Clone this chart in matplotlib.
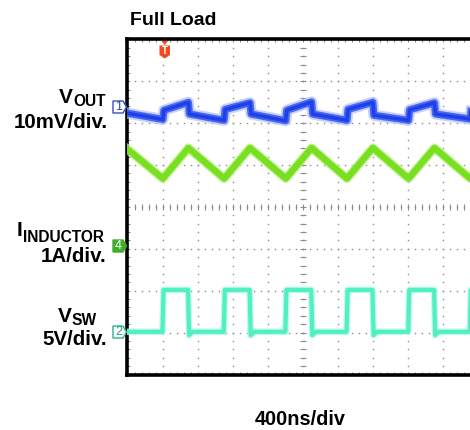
import numpy as np
import matplotlib.pyplot as plt
from matplotlib.patches import Polygon

# scope traces, in divisions (x: 0..10, y: -4..4)
vout_t = [0.00, 1.01, 1.04, 1.74, 1.77, 2.76, 2.79, 3.50, 3.53, 4.52, 4.55, 5.26, 5.29,
          6.27, 6.30, 7.01, 7.04, 8.03, 8.06, 8.77, 8.80, 9.79, 9.82, 10.0]
vout_v = [2.24, 2.09, 2.31, 2.50, 2.22, 2.07, 2.33, 2.49, 2.22, 2.06, 2.31, 2.51, 2.22,
          2.07, 2.33, 2.50, 2.19, 2.07, 2.32, 2.49, 2.22, 2.10, 2.33, 2.36]

il_t = [0.00, 1.01, 1.74, 2.76, 3.50, 4.52, 5.26, 6.27, 7.01, 8.03, 8.77, 9.79, 10.0]
il_v = [1.38, 0.68, 1.41, 0.68, 1.41, 0.68, 1.41, 0.68, 1.41, 0.68, 1.41, 0.68, 0.88]

sw_t = [0.00, 1.00, 1.03, 1.73, 1.76, 1.86, 2.75, 2.78, 3.49, 3.52, 3.62, 4.51, 4.54,
        5.25, 5.28, 5.38, 6.26, 6.29, 7.00, 7.03, 7.13, 8.02, 8.05, 8.76, 8.79, 8.89,
        9.78, 9.81, 10.0]
sw_v = [-2.98,
        -2.98, -1.98, -1.98, -3.06, -2.98,
        -2.98, -1.98, -1.98, -3.06, -2.98,
        -2.98, -1.98, -1.98, -3.06, -2.98,
        -2.98, -1.98, -1.98, -3.06, -2.98,
        -2.98, -1.98, -1.98, -3.06, -2.98,
        -2.98, -1.98, -1.98]

W, H = 470, 430
FONT = 'Liberation Sans'

fig = plt.figure(figsize=(W / 100, H / 100), dpi=100)
ax = fig.add_axes([127.5 / W, 1 - 374.5 / H, 350 / W, 335 / H])
ax.set_xlim(0, 10)
ax.set_ylim(-4, 4)
ax.set_xticks([])
ax.set_yticks([])
for s in ['left', 'top', 'bottom']:
    ax.spines[s].set_linewidth(2.6)
ax.spines['right'].set_visible(False)

# dotted graticule
gcol = '#8c8c8c'
fx = np.arange(0, 10.01, 0.2)
fy = np.arange(-4, 4.01, 0.2)
for y in range(-3, 4):
    ax.plot(fx, [y] * len(fx), ls='none', marker='s', ms=1.0, mew=0, color=gcol, zorder=1)
for x in range(1, 10):
    ax.plot([x] * len(fy), fy, ls='none', marker='s', ms=1.0, mew=0, color=gcol, zorder=1)
# center axes ticks
ax.plot([5] * len(fy), fy, ls='none', marker='_', ms=4, mew=0.8, color=gcol, zorder=1)
ax.plot(fx, [0] * len(fx), ls='none', marker='|', ms=4, mew=0.8, color=gcol, zorder=1)
# border ticks
ax.plot([0] * len(fy), fy, ls='none', marker='_', ms=5, mew=0.8, color=gcol, zorder=1)
ax.plot(fx, [4] * len(fx), ls='none', marker='|', ms=5, mew=0.8, color=gcol, zorder=1)
ax.plot(fx, [-4] * len(fx), ls='none', marker='|', ms=5, mew=0.8, color=gcol, zorder=1)

# traces
ax.plot(vout_t, vout_v, color='#b4c0f8', lw=8, alpha=0.7, zorder=3)
ax.plot(vout_t, vout_v, color='#3a5cf0', lw=5.2, alpha=0.9, zorder=4)
ax.plot(vout_t, vout_v, color='#1e40e8', lw=2.5, zorder=4)
ax.plot(il_t, il_v, color='#b8f080', lw=6.5, alpha=0.8, zorder=3)
ax.plot(il_t, il_v, color='#78e020', lw=4.6, zorder=4)
ax.plot(sw_t, sw_v, color='#b0f8e2', lw=4.8, alpha=0.8, zorder=3)
ax.plot(sw_t, sw_v, color='#50f0c0', lw=3.0, zorder=4)


def fx_(px):
    return px / W


def fy_(py):
    return 1 - py / H


def chan_marker(py, label, face, edge, tcol):
    pts = [(113, py - 6), (123, py - 6), (126.5, py), (123, py + 6), (113, py + 6)]
    fig.add_artist(Polygon([(fx_(a), fy_(b)) for a, b in pts], closed=True,
                           transform=fig.transFigure, facecolor=face, edgecolor=edge, lw=1))
    fig.text(fx_(118.5), fy_(py), label, ha='center', va='center', color=tcol,
             fontsize=9, family=FONT)


chan_marker(107, '1', 'white', '#3050c8', '#2040c0')
chan_marker(246, '4', '#3fae2a', '#3fae2a', 'white')
chan_marker(332, '2', 'white', '#30b090', '#20a080')

# trigger marker
tri = [(161.5, 41), (168, 41), (164.7, 45)]
fig.add_artist(Polygon([(fx_(a), fy_(b)) for a, b in tri], transform=fig.transFigure,
                       facecolor='#f04a1e', edgecolor='none', zorder=10))
shield = [(159.5, 45.5), (170, 45.5), (170, 55), (164.7, 58.5), (159.5, 55)]
fig.add_artist(Polygon([(fx_(a), fy_(b)) for a, b in shield], transform=fig.transFigure,
                       facecolor='#f04a1e', edgecolor='none', zorder=10))
fig.text(fx_(164.8), fy_(51.5), 'T', ha='center', va='center', color='white',
         fontsize=7, weight='bold', family=FONT, zorder=11)

# text labels
fig.text(fx_(130), fy_(25), 'Full Load', ha='left', va='baseline', fontsize=14,
         weight='bold', family=FONT)
fig.text(fx_(255), fy_(425), '400ns/div', ha='left', va='baseline', fontsize=14.3,
         weight='bold', family=FONT)

renderer = fig.canvas.get_renderer()


def split_label(big, small, right, base_small, base_big):
    t = fig.text(fx_(right), fy_(base_small), small, ha='right', va='baseline',
                 fontsize=11.2, weight='bold', family=FONT)
    w = t.get_window_extent(renderer=renderer).width
    fig.text(fx_(right - w - 0.5), fy_(base_big), big, ha='right', va='baseline',
             fontsize=15, weight='bold', family=FONT)


split_label('V', 'OUT', 106, 106, 103)
fig.text(fx_(108), fy_(128), '10mV/div.', ha='right', va='baseline', fontsize=14.8,
         weight='bold', family=FONT)
split_label('I', 'INDUCTOR', 104, 242, 236)
fig.text(fx_(107), fy_(262), '1A/div.', ha='right', va='baseline', fontsize=14.8,
         weight='bold', family=FONT)
split_label('V', 'SW', 97, 325, 322)
fig.text(fx_(107), fy_(345), '5V/div.', ha='right', va='baseline', fontsize=14.8,
         weight='bold', family=FONT)

fig.savefig('out.png', dpi=100)
